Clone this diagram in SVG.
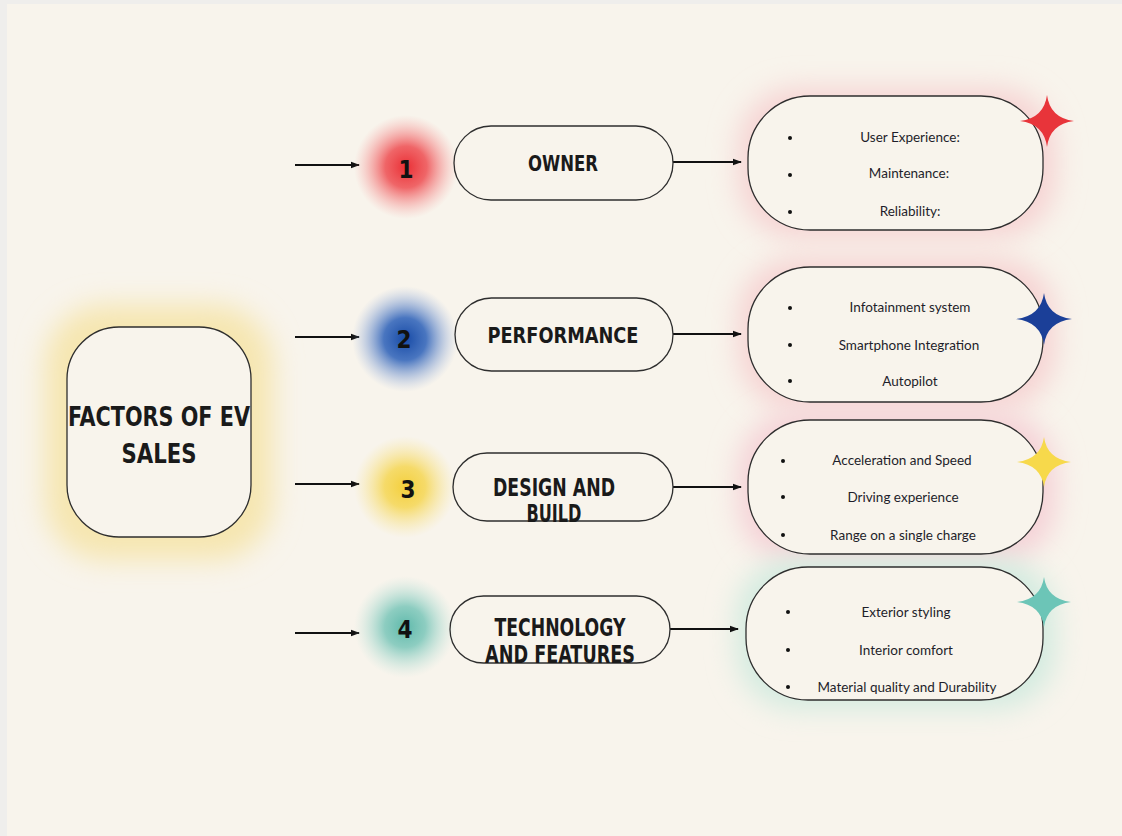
<svg xmlns="http://www.w3.org/2000/svg" width="1122" height="836" viewBox="0 0 1122 836">
<style>
.frame{fill:none;stroke:#2e2e2e;stroke-width:1.3}
.box{fill:#f8f4ec;stroke:#2e2e2e;stroke-width:1.3}
.head{font-family:"DejaVu Sans Condensed","Liberation Sans Narrow",sans-serif;font-weight:bold;fill:#1a1a1a;text-anchor:middle}
.num{font-family:"DejaVu Sans Condensed","Liberation Sans",sans-serif;font-weight:bold;fill:#111;font-size:24px;text-anchor:middle}
.item{font-family:"Lato","Liberation Sans",sans-serif;font-size:13.5px;fill:#1e1e2a;text-anchor:middle}
.bul{fill:#111}
.conn{stroke:#111;stroke-width:2;fill:none;marker-end:url(#ah)}
</style>
<defs>
<marker id="ah" markerWidth="9" markerHeight="8" refX="8" refY="4" orient="auto" markerUnits="userSpaceOnUse">
<path d="M0,0.8 L9,4 L0,7.2 Z" fill="#111"/>
</marker>
<filter id="soft" x="-50%" y="-50%" width="200%" height="200%"><feGaussianBlur stdDeviation="14"/></filter>
<radialGradient id="gR"><stop offset="0" stop-color="#ea2f35"/><stop offset="0.4" stop-color="#ee4c50" stop-opacity="0.85"/><stop offset="1" stop-color="#f6a0a0" stop-opacity="0"/></radialGradient>
<radialGradient id="gB"><stop offset="0" stop-color="#174aa6"/><stop offset="0.4" stop-color="#2a5fb8" stop-opacity="0.85"/><stop offset="1" stop-color="#9ab3e0" stop-opacity="0"/></radialGradient>
<radialGradient id="gY"><stop offset="0" stop-color="#f4cf3c"/><stop offset="0.4" stop-color="#f5d652" stop-opacity="0.85"/><stop offset="1" stop-color="#f8e59a" stop-opacity="0"/></radialGradient>
<radialGradient id="gT"><stop offset="0" stop-color="#5fb9ab"/><stop offset="0.4" stop-color="#7ac6b9" stop-opacity="0.85"/><stop offset="1" stop-color="#bfe3dc" stop-opacity="0"/></radialGradient>
</defs>

<rect x="0" y="0" width="1122" height="836" fill="#efeeec"/>
<rect x="7" y="4" width="1115" height="832" fill="#f8f4ec"/>

<g id="glows">
<rect x="45" y="305" width="228" height="255" rx="60" fill="#f6e6b0" filter="url(#soft)"/>
<rect x="738" y="88" width="318" height="150" rx="60" fill="#f6d3d3" filter="url(#soft)"/>
<rect x="738" y="258" width="318" height="152" rx="60" fill="#f6d3d3" filter="url(#soft)"/>
<rect x="738" y="412" width="318" height="151" rx="60" fill="#f5d1d7" filter="url(#soft)"/>
<rect x="736" y="558" width="320" height="151" rx="60" fill="#d3ebe0" filter="url(#soft)"/>
</g>

<g id="connectors">
<line class="conn" x1="295" y1="165" x2="359" y2="165"/>
<line class="conn" x1="295" y1="337" x2="359" y2="337"/>
<line class="conn" x1="295" y1="484" x2="359" y2="484"/>
<line class="conn" x1="295" y1="633" x2="359" y2="633"/>
<line class="conn" x1="673" y1="162" x2="741" y2="162"/>
<line class="conn" x1="673" y1="334" x2="741" y2="334"/>
<line class="conn" x1="673" y1="487" x2="741" y2="487"/>
<line class="conn" x1="670" y1="629" x2="738" y2="629"/>
</g>

<g id="center">
<rect class="box" x="67" y="327" width="184" height="210" rx="52"/>
<text class="head" x="159" y="426" font-size="26" textLength="182" lengthAdjust="spacingAndGlyphs">FACTORS OF EV</text>
<text class="head" x="159" y="463" font-size="26" textLength="75" lengthAdjust="spacingAndGlyphs">SALES</text>
</g>

<g id="n1">
<circle cx="406" cy="167" r="52" fill="url(#gR)"/>
<text class="num" x="406" y="178">1</text>
</g>
<g id="n2">
<circle cx="405" cy="339" r="53" fill="url(#gB)"/>
<text class="num" x="404" y="348">2</text>
</g>
<g id="n3">
<circle cx="405" cy="487" r="51" fill="url(#gY)"/>
<text class="num" x="408" y="498">3</text>
</g>
<g id="n4">
<circle cx="405" cy="627" r="51" fill="url(#gT)"/>
<text class="num" x="405" y="638">4</text>
</g>

<g id="owner">
<rect class="frame" x="454" y="126" width="219" height="74" rx="37"/>
<text class="head" x="563" y="171" font-size="22" textLength="70" lengthAdjust="spacingAndGlyphs">OWNER</text>
</g>
<g id="performance">
<rect class="frame" x="455" y="298" width="218" height="73" rx="36.5"/>
<text class="head" x="563" y="343" font-size="22" textLength="151" lengthAdjust="spacingAndGlyphs">PERFORMANCE</text>
</g>
<g id="design">
<rect class="frame" x="453" y="453" width="220" height="68" rx="34"/>
<text class="head" x="554" y="496" font-size="24" textLength="122" lengthAdjust="spacingAndGlyphs">DESIGN AND</text>
<text class="head" x="554" y="522" font-size="24" textLength="55" lengthAdjust="spacingAndGlyphs">BUILD</text>
</g>
<g id="technology">
<rect class="frame" x="450" y="596" width="220" height="67" rx="33.5"/>
<text class="head" x="560" y="636" font-size="24" textLength="131" lengthAdjust="spacingAndGlyphs">TECHNOLOGY</text>
<text class="head" x="560" y="663" font-size="24" textLength="150" lengthAdjust="spacingAndGlyphs">AND FEATURES</text>
</g>

<g id="list1">
<rect class="box" x="748" y="96" width="295" height="134" rx="62"/>
<circle class="bul" cx="790" cy="138" r="2"/><circle class="bul" cx="790" cy="175" r="2"/><circle class="bul" cx="790" cy="212" r="2"/>
<text class="item" x="910" y="142">User Experience:</text>
<text class="item" x="909" y="178">Maintenance:</text>
<text class="item" x="910" y="216">Reliability:</text>
<path d="M1047,95 Q1050,118 1074,121 Q1050,124 1047,147 Q1044,124 1020,121 Q1044,118 1047,95 Z" fill="#e8343a"/>
</g>
<g id="list2">
<rect class="box" x="748" y="267" width="295" height="135" rx="62"/>
<circle class="bul" cx="790" cy="308" r="2"/><circle class="bul" cx="790" cy="345" r="2"/><circle class="bul" cx="790" cy="381" r="2"/>
<text class="item" x="910" y="312">Infotainment system</text>
<text class="item" x="909" y="350">Smartphone Integration</text>
<text class="item" x="910" y="386">Autopilot</text>
<path d="M1044,293 Q1047,316 1072,319 Q1047,322 1044,345 Q1041,322 1016,319 Q1041,316 1044,293 Z" fill="#1b3f98"/>
</g>
<g id="list3">
<rect class="box" x="748" y="420" width="295" height="134" rx="62"/>
<circle class="bul" cx="783" cy="461" r="2"/><circle class="bul" cx="783" cy="497" r="2"/><circle class="bul" cx="783" cy="535" r="2"/>
<text class="item" x="902" y="465">Acceleration and Speed</text>
<text class="item" x="903" y="502">Driving experience</text>
<text class="item" x="903" y="540">Range on a single charge</text>
<path d="M1044,437 Q1047,459 1071,462 Q1047,465 1044,487 Q1041,465 1017,462 Q1041,459 1044,437 Z" fill="#f7d94b"/>
</g>
<g id="list4">
<rect class="box" x="746" y="567" width="297" height="133" rx="62"/>
<circle class="bul" cx="788" cy="612" r="2"/><circle class="bul" cx="788" cy="650" r="2"/><circle class="bul" cx="788" cy="687" r="2"/>
<text class="item" x="906" y="617">Exterior styling</text>
<text class="item" x="906" y="655">Interior comfort</text>
<text class="item" x="907" y="692">Material quality and Durability</text>
<path d="M1044,577 Q1047,599 1071,602 Q1047,605 1044,627 Q1041,605 1017,602 Q1041,599 1044,577 Z" fill="#6cc5b7"/>
</g>
</svg>
